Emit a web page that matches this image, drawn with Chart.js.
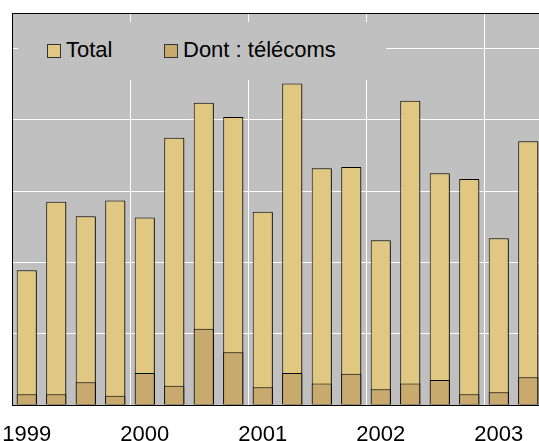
<!DOCTYPE html>
<html>
<head>
<meta charset="utf-8">
<script src="https://cdn.jsdelivr.net/npm/chart.js@4.4.1/dist/chart.umd.min.js"></script>
<style>
  html, body { margin: 0; padding: 0; background: #fff; overflow: hidden; }
  #wrap { position: relative; width: 543px; height: 441px; }
  canvas { display: block; }
  #legend {
    position: absolute; left: 18px; top: 22px; width: 368px; height: 58px;
    background: #c0c0c0; font: 22px "Liberation Sans", Arial, sans-serif; color: #000;
  }
  #legend span.item { position: absolute; top: 16px; line-height: 24px; white-space: nowrap; }
  #legend i { display: inline-block; width: 12px; height: 12px; border: 1px solid #333;
    vertical-align: -1px; margin-right: 5px; }
</style>
</head>
<body>
<div id="wrap">
  <canvas id="chart" width="543" height="441"></canvas>
  <div id="legend">
    <span class="item" style="left:29px"><i style="background:#e0c882"></i>Total</span>
    <span class="item" style="left:146px"><i style="background:#c8aa6e"></i>Dont : télécoms</span>
  </div>
</div>
<script>
// quarterly values, 1999 T1 .. 2003 T2
const quarters = ['1999','1999','1999','1999','2000','2000','2000','2000',
  '2001','2001','2001','2001','2002','2002','2002','2002','2003','2003'];
const yearLabels = ['1999','','','','2000','','','','2001','','','','2002','','','','2003',''];
const total = [18.9, 28.5, 26.5, 28.7, 26.3, 37.5, 42.4, 40.4, 27.1, 45.1,
  33.2, 33.4, 23.1, 42.7, 32.5, 31.7, 23.4, 37.0];
const telecoms = [1.5, 1.5, 3.2, 1.3, 4.5, 2.7, 10.7, 7.4, 2.5, 4.5,
  3.0, 4.4, 2.2, 3.0, 3.5, 1.5, 1.8, 3.9];

const plotBg = {
  id: 'plotBg',
  beforeDraw(chart) {
    const a = chart.chartArea, c = chart.ctx;
    c.save();
    c.fillStyle = '#c0c0c0';
    c.fillRect(a.left, a.top, a.right - a.left, a.bottom - a.top);
    c.restore();
  }
};
// little grey shadow under the bars
const barShadow = {
  id: 'barShadow',
  beforeDatasetsDraw(chart) {
    const c = chart.ctx;
    c.save();
    c.shadowColor = 'rgba(0,0,0,0.45)';
    c.shadowOffsetX = 1.5;
    c.shadowOffsetY = 1;
    c.shadowBlur = 0;
  },
  afterDatasetsDraw(chart) { chart.ctx.restore(); }
};

new Chart(document.getElementById('chart'), {
  type: 'bar',
  data: {
    labels: quarters.map((q, i) => yearLabels[i]),
    datasets: [{
      label: 'Total',
      data: total,
      backgroundColor: '#e0c882',
      borderColor: '#000',
      borderWidth: 1,
      order: 1
    }, {
      label: 'Dont : télécoms',
      data: telecoms,
      backgroundColor: '#c8aa6e',
      borderColor: '#000',
      borderWidth: 1,
      order: 0
    }]
  },
  options: {
    responsive: false,
    animation: false,
    layout: { padding: { left: 12, top: 13, right: 0, bottom: 0 } },
    datasets: { bar: { grouped: false, categoryPercentage: 1, barPercentage: 0.68 } },
    scales: {
      x: {
        afterFit(s) { s.height = 36; s.paddingLeft = 0; s.paddingRight = 0; },
        grid: {
          offset: true,
          drawTicks: false,
          color: c => (c.index % 4 === 0 && c.index > 0) ? '#ffffff' : 'rgba(0,0,0,0)',
          lineWidth: 1
        },
        border: { display: true, color: '#000', width: 1 },
        ticks: {
          autoSkip: false, maxRotation: 0, padding: 17, color: '#000',
          font: { family: '"Liberation Sans", Arial, sans-serif', size: 22 }
        }
      },
      y: {
        afterFit(s) { s.width = 0; s.paddingTop = 0; s.paddingBottom = 0; },
        min: 0, max: 55,
        ticks: { display: false, stepSize: 10 },
        grid: {
          drawTicks: false,
          color: c => c.tick.value === 55 ? '#000' : (c.tick.value === 0 ? 'rgba(0,0,0,0)' : '#ffffff'),
          lineWidth: 1
        },
        border: { display: true, color: '#000', width: 1 }
      }
    },
    plugins: { legend: { display: false }, tooltip: { enabled: false } }
  },
  plugins: [plotBg, barShadow]
});
</script>
</body>
</html>
